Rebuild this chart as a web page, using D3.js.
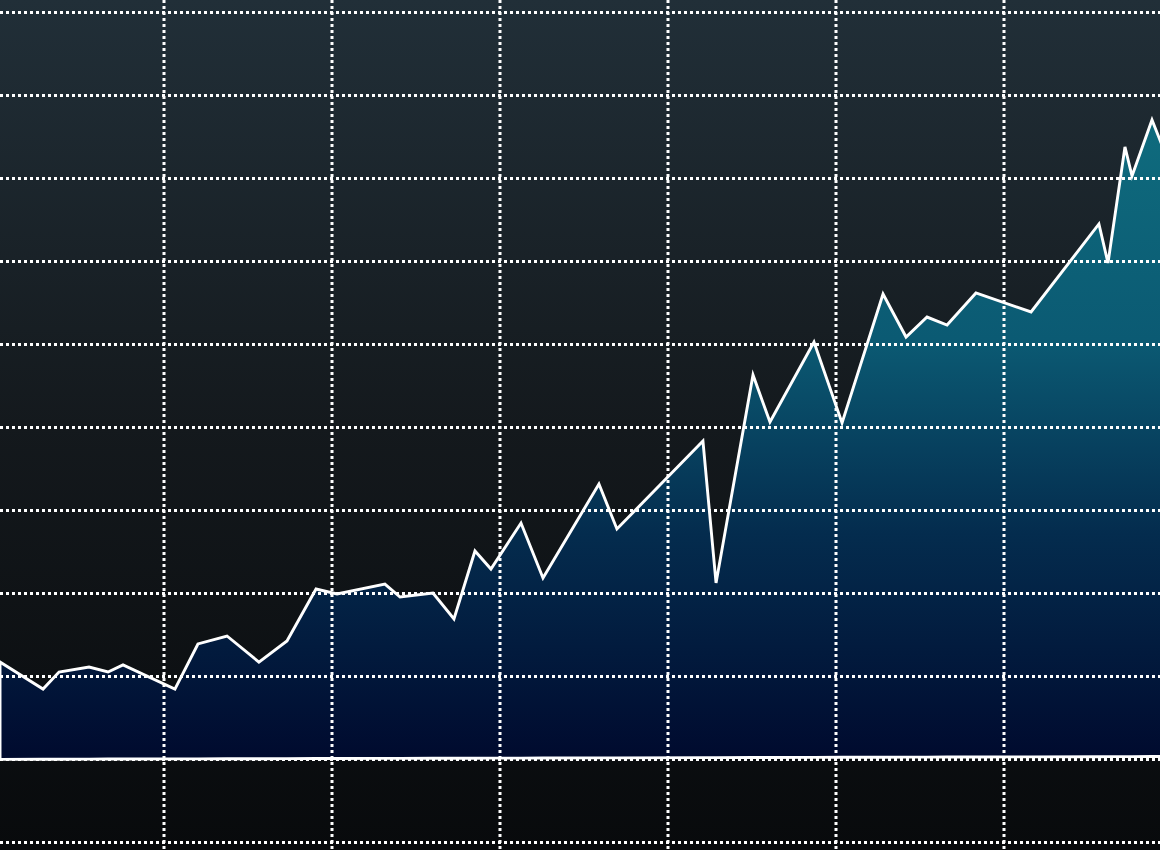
<!DOCTYPE html>
<html>
<head>
<meta charset="utf-8">
<script src="https://cdn.jsdelivr.net/npm/d3@7"></script>
<style>
  html, body { margin: 0; padding: 0; background: #0a0c0e; overflow: hidden; }
  svg { display: block; }
</style>
</head>
<body>
<div id="chart"></div>
<script>
var width = 1160,
    height = 850;

// time steps (grid every 10) and values (grid every 10)
let steps = [0.24, 2.8, 3.75, 5.54, 6.67, 7.56, 10.65, 12.02, 13.75, 15.65,
    17.32, 19.05, 20.3, 23.15, 24.05, 26.01, 27.26, 28.51, 29.46, 31.25,
    32.56, 35.89, 36.96, 42.08, 42.86, 45.06, 46.07, 48.69, 50.36, 52.8,
    54.17, 55.42, 56.61, 58.33, 61.61, 65.65, 66.19, 67.2, 67.62, 68.81, 69.4];
let values = [11.8, 8.55, 10.6, 11.2, 10.6, 11.45, 8.55, 13.98, 14.94, 11.8,
    14.34, 20.6, 20.0, 21.2, 19.64, 20.12, 16.99, 25.18, 23.01, 28.55,
    21.93, 33.25, 27.83, 38.43, 21.33, 46.39, 40.72, 50.36, 40.6, 56.14,
    50.96, 53.37, 52.41, 56.27, 53.98, 64.58, 59.88, 73.86, 70.36, 77.11, 74.1];
// baseline drifts up slightly from left to right
let baseSteps = [0, 70];
let baseValues = [0.08, 0.42];

let xTicks = [10, 20, 30, 40, 50, 60];
let yTicks = [-10, 0, 10, 20, 30, 40, 50, 60, 70, 80, 90];

let dataset = steps.map((s, i) => ({ step: s, value: values[i] }));

let x = d3.scaleLinear().domain([0, 70]).range([-4, 1172]);
let y = d3.scaleLinear().domain([-10, 90]).range([843, 13]);
let base = d3.scaleLinear().domain(baseSteps).range(baseValues);

let svg = d3.select("#chart").append("svg")
    .attr("width", width)
    .attr("height", height);

let defs = svg.append("defs");

let bg = defs.append("linearGradient")
    .attr("id", "bg")
    .attr("x1", 0).attr("y1", 0).attr("x2", 0).attr("y2", 1);
bg.append("stop").attr("offset", "0%").attr("stop-color", "#212f38");
bg.append("stop").attr("offset", "50%").attr("stop-color", "#14191d");
bg.append("stop").attr("offset", "100%").attr("stop-color", "#080a0c");

let fill = defs.append("linearGradient")
    .attr("id", "fill")
    .attr("gradientUnits", "userSpaceOnUse")
    .attr("x1", 0).attr("y1", y(78)).attr("x2", 0).attr("y2", y(0));
fill.append("stop").attr("offset", "0%").attr("stop-color", "#0f6c7e");
fill.append("stop").attr("offset", "35%").attr("stop-color", "#0b5a73");
fill.append("stop").attr("offset", "65%").attr("stop-color", "#042c4e");
fill.append("stop").attr("offset", "100%").attr("stop-color", "#000a2e");

svg.append("rect")
    .attr("width", width)
    .attr("height", height)
    .attr("fill", "url(#bg)");

let area = d3.area()
    .x(d => x(d.step))
    .y0(d => y(base(d.step)))
    .y1(d => y(d.value));

svg.append("path")
    .datum(dataset)
    .attr("d", area)
    .attr("fill", "url(#fill)");

// dotted grid
let grid = svg.append("g")
    .attr("stroke", "#ffffff")
    .attr("stroke-width", 3)
    .attr("stroke-dasharray", "3,3");

grid.selectAll("line.h")
    .data(yTicks)
    .enter()
    .append("line")
    .attr("class", "h")
    .attr("x1", 0)
    .attr("x2", width)
    .attr("y1", d => y(d) - 0.5)
    .attr("y2", d => y(d) - 0.5);

grid.selectAll("line.v")
    .data(xTicks)
    .enter()
    .append("line")
    .attr("class", "v")
    .attr("x1", d => x(d))
    .attr("x2", d => x(d))
    .attr("y1", 0)
    .attr("y2", height);

// white outline of the area (top line, baseline and left edge)
svg.append("path")
    .datum(dataset)
    .attr("d", area)
    .attr("fill", "none")
    .attr("stroke", "#ffffff")
    .attr("stroke-width", 2.9)
    .attr("stroke-linejoin", "miter");
</script>
</body>
</html>
